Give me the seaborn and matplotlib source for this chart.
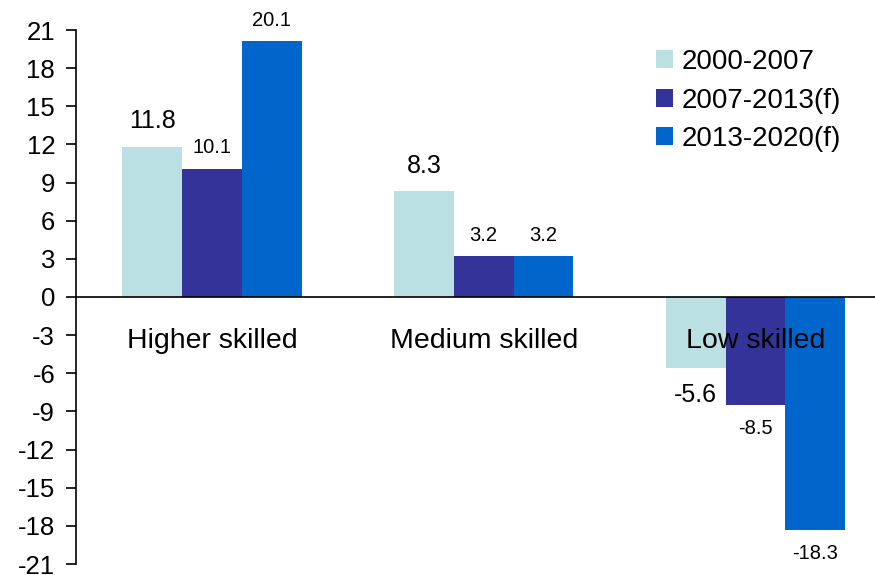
import matplotlib
matplotlib.use("Agg")
import matplotlib.pyplot as plt
import seaborn as sns
import pandas as pd
from matplotlib.patches import Patch

categories = ["Higher skilled", "Medium skilled", "Low skilled"]
periods = ["2000-2007", "2007-2013(f)", "2013-2020(f)"]
v_2000_2007 = [11.8, 8.3, -5.6]
v_2007_2013 = [10.1, 3.2, -8.5]
v_2013_2020 = [20.1, 3.2, -18.3]
yticks = list(range(-21, 22, 3))
colors = ["#BBE0E3", "#333399", "#0066CC"]

rows = []
for p, vals in zip(periods, [v_2000_2007, v_2007_2013, v_2013_2020]):
    for c, v in zip(categories, vals):
        rows.append({"cat": c, "period": p, "val": v})
df = pd.DataFrame(rows)

sns.set_style("white")
plt.rcParams["font.family"] = ["Liberation Sans", "DejaVu Sans"]
plt.rcParams["text.color"] = "black"
plt.rcParams["xtick.color"] = "black"
plt.rcParams["ytick.color"] = "black"
plt.rcParams["axes.labelcolor"] = "black"

fig = plt.figure(figsize=(8.75, 5.75), dpi=100)
ax = fig.add_axes([76/875, 1-564/575, 1-76/875, (564-30)/575])

sns.barplot(data=df, x="cat", y="val", hue="period", palette=colors,
            hue_order=periods, order=categories, width=0.66, saturation=1,
            linewidth=0, errorbar=None, ax=ax, legend=False)

ax.set_ylim(-21, 21)
ax.set_xlim(-0.5, 2.44)
ax.set_yticks(yticks)
ax.set_yticklabels([str(t) for t in yticks], fontsize=18.5)
ax.set_xlabel("")
ax.set_ylabel("")

for s in ["top", "right"]:
    ax.spines[s].set_visible(False)
ax.spines["left"].set_color("black")
ax.spines["left"].set_linewidth(1.2)
ax.spines["bottom"].set_position(("data", 0))
ax.spines["bottom"].set_color("black")
ax.spines["bottom"].set_linewidth(1.2)

ax.set_xticks([0.5, 1.5])
ax.set_xticklabels(["", ""])
ax.tick_params(axis="x", direction="out", length=7, width=1.2, color="black")
ax.tick_params(axis="y", direction="out", length=7, width=1.2, color="black",
               left=True, pad=8)

for i, c in enumerate(categories):
    ax.text(i, -3.5, c, ha="center", va="center", fontsize=20.5)

# value labels
big = 18
small = 14.5
specs = [(big, 10, 10.5), (small, 8, 10), (small, 8, 10)]
for cont, (fs, pad_pos, pad_neg) in zip(ax.containers, specs):
    for bar in cont:
        h = bar.get_height()
        x = bar.get_x() + bar.get_width() / 2
        if h >= 0:
            ax.annotate(f"{h:.1f}", (x, h), xytext=(0, pad_pos), textcoords="offset points",
                        ha="center", va="bottom", fontsize=fs)
        else:
            ax.annotate(f"{h:.1f}", (x, h), xytext=(0, -pad_neg), textcoords="offset points",
                        ha="center", va="top", fontsize=fs)

handles = [Patch(facecolor=col, edgecolor="none", label=p) for col, p in zip(colors, periods)]
fig.legend(handles=handles, loc="upper left", bbox_to_anchor=(656/875, 1-49/575),
           frameon=False, fontsize=20, handlelength=0.62, handleheight=0.62,
           handletextpad=0.32, labelspacing=0.45, borderpad=0, borderaxespad=0)

fig.savefig("out.png", dpi=100)
